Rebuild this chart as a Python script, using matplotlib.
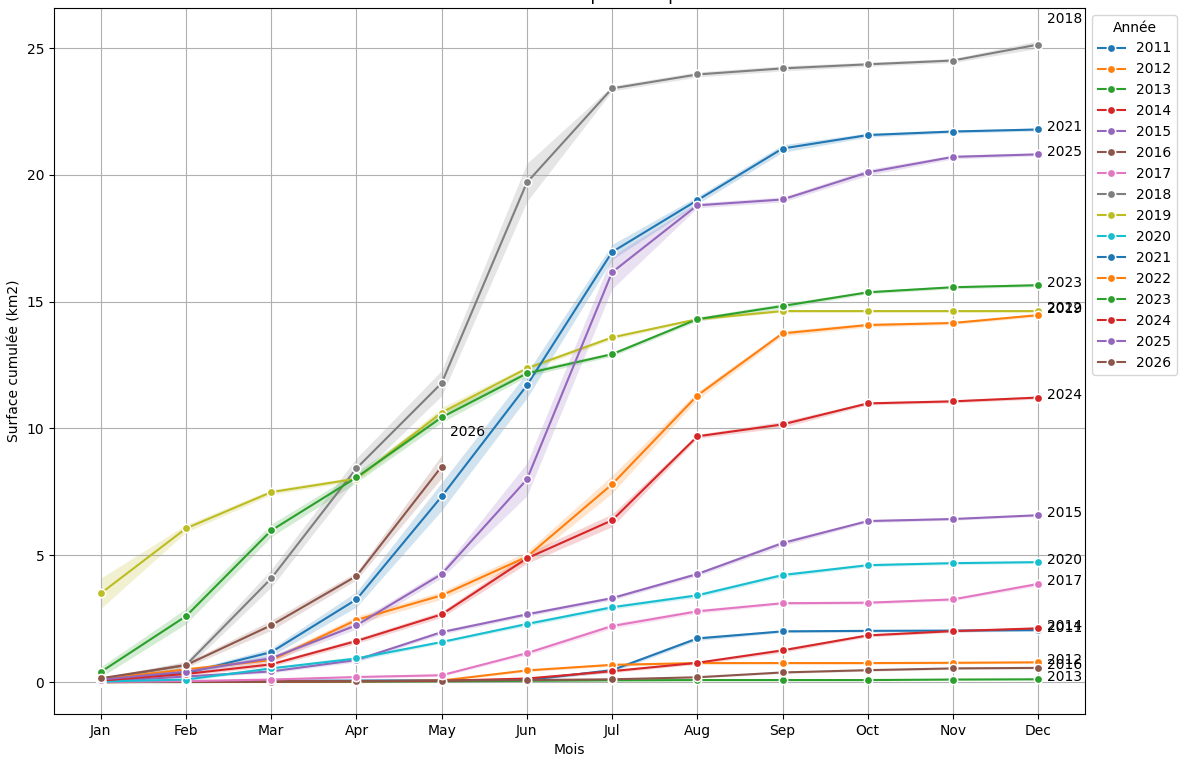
import matplotlib
matplotlib.use("Agg")
import matplotlib.pyplot as plt
import numpy as np

# months on the x axis
months = ['Jan', 'Feb', 'Mar', 'Apr', 'May', 'Jun', 'Jul', 'Aug', 'Sep', 'Oct', 'Nov', 'Dec']
years = list(range(2011, 2027))

# cumulative surface (km2), mean per month
y2011 = [0.0, 0.03, 0.05, 0.06, 0.07, 0.08, 0.47, 1.72, 2.0, 2.02, 2.03, 2.05]
y2012 = [0.0, 0.01, 0.02, 0.03, 0.06, 0.46, 0.68, 0.75, 0.75, 0.75, 0.76, 0.78]
y2013 = [0.0, 0.0, 0.01, 0.02, 0.03, 0.05, 0.07, 0.08, 0.08, 0.08, 0.1, 0.11]
y2014 = [0.0, 0.01, 0.02, 0.03, 0.05, 0.14, 0.43, 0.76, 1.25, 1.84, 2.01, 2.12]
y2015 = [0.02, 0.22, 0.42, 0.87, 1.97, 2.67, 3.31, 4.26, 5.48, 6.35, 6.43, 6.58]
y2016 = [0.0, 0.01, 0.02, 0.04, 0.06, 0.08, 0.11, 0.19, 0.38, 0.47, 0.54, 0.56]
y2017 = [0.0, 0.04, 0.1, 0.2, 0.27, 1.14, 2.21, 2.79, 3.11, 3.13, 3.26, 3.87]
y2018 = [0.1, 0.67, 4.09, 8.43, 11.79, 19.70, 23.41, 23.96, 24.2, 24.36, 24.51, 25.14]
y2019 = [3.5, 6.06, 7.49, 8.02, 10.63, 12.37, 13.59, 14.31, 14.63, 14.63, 14.63, 14.63]
y2020 = [0.02, 0.1, 0.54, 0.93, 1.58, 2.29, 2.95, 3.42, 4.22, 4.61, 4.69, 4.73]
y2021 = [0.08, 0.35, 1.18, 3.26, 7.32, 11.70, 16.96, 19.0, 21.04, 21.57, 21.71, 21.79]
y2022 = [0.12, 0.5, 0.87, 2.45, 3.42, 4.94, 7.8, 11.3, 13.75, 14.08, 14.16, 14.47]
y2023 = [0.4, 2.6, 5.98, 8.07, 10.44, 12.17, 12.93, 14.31, 14.83, 15.37, 15.57, 15.65]
y2024 = [0.06, 0.32, 0.7, 1.62, 2.67, 4.88, 6.38, 9.69, 10.16, 10.99, 11.07, 11.22]
y2025 = [0.1, 0.41, 0.94, 2.24, 4.26, 7.99, 16.16, 18.8, 19.03, 20.1, 20.71, 20.81]
y2026 = [0.15, 0.67, 2.24, 4.18, 8.5]

# half width of the confidence band, per month
ci2011 = [0.02, 0.03, 0.03, 0.03, 0.03, 0.03, 0.08, 0.08, 0.05, 0.05, 0.05, 0.05]
ci2012 = [0.02, 0.02, 0.02, 0.02, 0.03, 0.05, 0.05, 0.04, 0.04, 0.04, 0.04, 0.04]
ci2013 = [0.02, 0.02, 0.02, 0.02, 0.02, 0.02, 0.03, 0.03, 0.03, 0.03, 0.03, 0.03]
ci2014 = [0.02, 0.02, 0.02, 0.02, 0.03, 0.05, 0.06, 0.06, 0.08, 0.06, 0.05, 0.05]
ci2015 = [0.02, 0.05, 0.06, 0.08, 0.08, 0.08, 0.08, 0.08, 0.1, 0.06, 0.05, 0.05]
ci2016 = [0.02, 0.02, 0.02, 0.02, 0.02, 0.03, 0.03, 0.03, 0.04, 0.04, 0.04, 0.04]
ci2017 = [0.02, 0.03, 0.04, 0.05, 0.05, 0.08, 0.1, 0.08, 0.06, 0.06, 0.06, 0.08]
ci2018 = [0.05, 0.15, 0.35, 0.4, 0.5, 0.75, 0.1, 0.1, 0.1, 0.08, 0.08, 0.15]
ci2019 = [0.6, 0.15, 0.1, 0.08, 0.2, 0.1, 0.08, 0.05, 0.05, 0.05, 0.05, 0.05]
ci2020 = [0.02, 0.05, 0.06, 0.08, 0.06, 0.08, 0.08, 0.08, 0.08, 0.06, 0.06, 0.05]
ci2021 = [0.04, 0.08, 0.15, 0.3, 0.55, 0.5, 0.3, 0.15, 0.15, 0.08, 0.06, 0.06]
ci2022 = [0.04, 0.06, 0.1, 0.15, 0.15, 0.2, 0.35, 0.15, 0.1, 0.08, 0.06, 0.06]
ci2023 = [0.2, 0.3, 0.25, 0.2, 0.2, 0.12, 0.08, 0.08, 0.1, 0.06, 0.06, 0.06]
ci2024 = [0.03, 0.06, 0.08, 0.1, 0.12, 0.2, 0.25, 0.08, 0.12, 0.06, 0.06, 0.06]
ci2025 = [0.04, 0.08, 0.12, 0.15, 0.15, 0.65, 0.65, 0.1, 0.1, 0.12, 0.08, 0.06]
ci2026 = [0.05, 0.1, 0.2, 0.15, 0.45]

# a few end labels sit a bit higher than their last point
label_nudge = {2018: 0.9, 2026: 1.25, 2022: 0.2}

series = {2011: y2011, 2012: y2012, 2013: y2013, 2014: y2014, 2015: y2015, 2016: y2016,
          2017: y2017, 2018: y2018, 2019: y2019, 2020: y2020, 2021: y2021, 2022: y2022,
          2023: y2023, 2024: y2024, 2025: y2025, 2026: y2026}
bands = {2011: ci2011, 2012: ci2012, 2013: ci2013, 2014: ci2014, 2015: ci2015, 2016: ci2016,
         2017: ci2017, 2018: ci2018, 2019: ci2019, 2020: ci2020, 2021: ci2021, 2022: ci2022,
         2023: ci2023, 2024: ci2024, 2025: ci2025, 2026: ci2026}

fig = plt.figure(figsize=(11.83, 7.64), dpi=100)
ax = fig.add_axes([0.0456, 0.0654, 0.9172 - 0.0456, 0.9895 - 0.0654])
colors = plt.rcParams['axes.prop_cycle'].by_key()['color']

for i, yr in enumerate(years):
    vals = np.array(series[yr])
    ci = np.array(bands[yr])
    x = np.arange(len(vals))
    c = colors[i % 10]
    ax.fill_between(x, vals - ci, vals + ci, color=c, alpha=0.2, linewidth=0)
    ax.plot(x, vals, color=c, lw=1.5, marker='o', ms=6, mec='w', mew=1.1, label=str(yr))
    ax.text(x[-1] + 0.1, vals[-1] + 0.1 + label_nudge.get(yr, 0), str(yr),
            ha='left', va='center', fontsize=10)

ax.set_xticks(range(12))
ax.set_xticklabels(months)
ax.set_xlim(-0.55, 11.55)
ax.set_ylim(-1.26, 26.58)
ax.set_yticks([0, 5, 10, 15, 20, 25])
ax.grid(True)
ax.set_xlabel("Mois")
ax.set_ylabel("Surface cumulée (km2)")
# title sits just above the canvas, as in the original export
ax.set_title("Surface cumulée brûlée par mois par année")
ax.legend(title="Année", loc='upper left', bbox_to_anchor=(1.0, 1.0))

fig.savefig("out.png", dpi=100)
